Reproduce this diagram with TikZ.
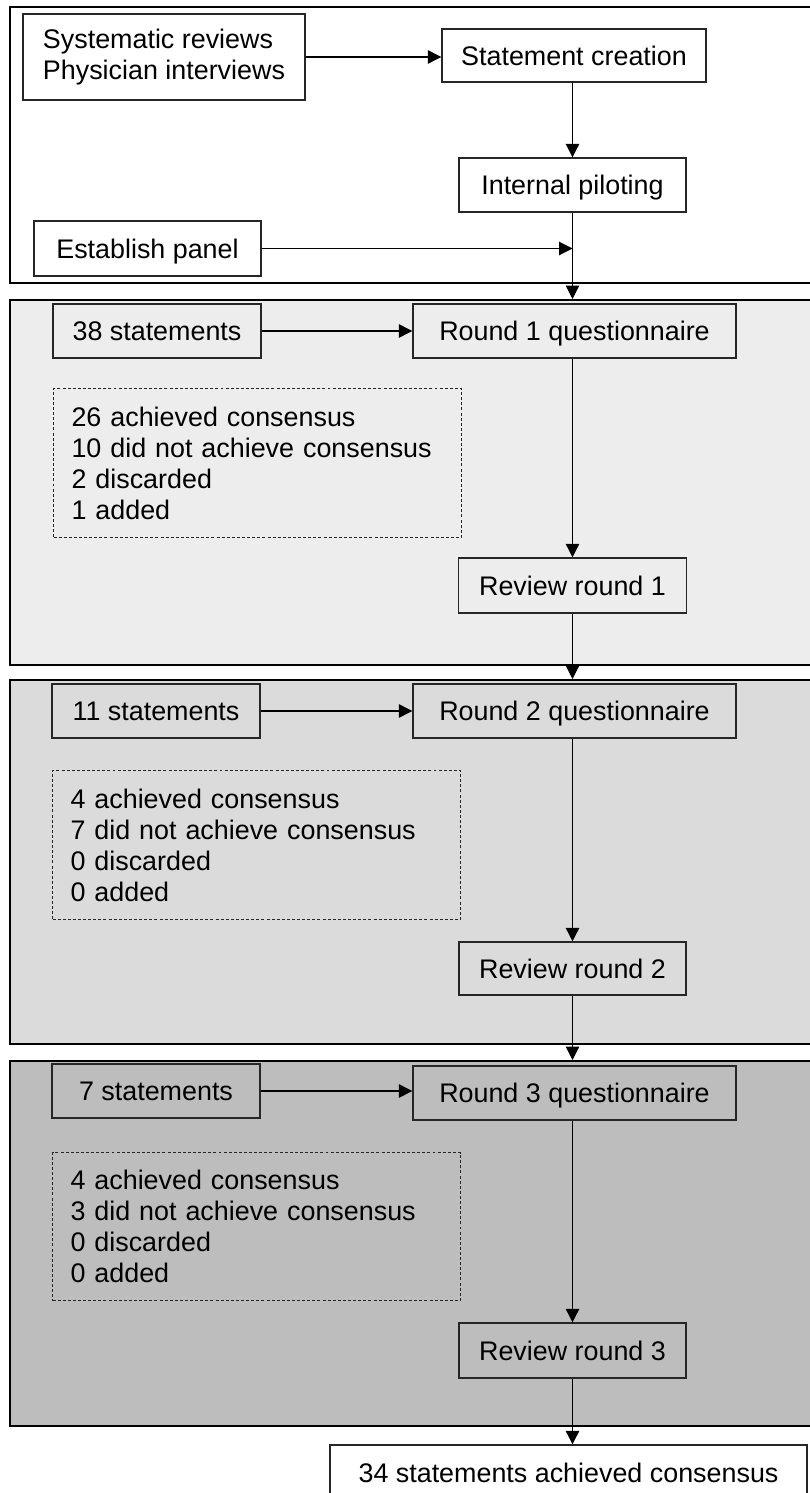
\documentclass[tikz,border=0pt]{standalone}
\usepackage{fontspec}
\setmainfont{Liberation Sans}
\usetikzlibrary{arrows.meta}

\begin{document}
\begin{tikzpicture}[
  x=0.02cm, y=-0.02cm,
  every node/.style={font=\fontsize{15.3}{17.6}\selectfont},
  stage/.style={draw=black, line width=1.1pt, rectangle, anchor=north west,
                minimum width=16.12cm, inner sep=0pt},
  box/.style={draw=black!85, line width=0.8pt, rectangle, inner sep=0pt,
              minimum height=1.08cm, text height=11pt, text depth=0pt},
  tally/.style={draw=black!85, line width=0.6pt, dash pattern=on 1.7pt off 1.2pt,
                rectangle, anchor=north west, minimum width=8.16cm,
                minimum height=2.98cm, text width=7.44cm, inner xsep=0.36cm,
                inner ysep=0pt, align=left},
  flow/.style={line width=0.6pt, -{Triangle[length=0.27cm, width=0.27cm]}},
]
\clip (0,0) rectangle (810,1493);
\fill[white] (0,0) rectangle (810,1493);
% stage frames
\node[stage, fill=white, minimum height=5.52cm] (sec1) at (9,6) {};
\node[stage, fill=black!7, minimum height=7.30cm] (sec2) at (9,299) {};
\node[stage, fill=black!14, minimum height=7.28cm] (sec3) at (9,679) {};
\node[stage, fill=black!26, minimum height=7.30cm] (sec4) at (9,1060) {};
% preparation
\node[box, minimum width=5.64cm, minimum height=1.72cm, text height=, text depth=, align=left] (src) at (164,57)
  {Systematic reviews\\Physician interviews};
\node[box, minimum width=5.28cm, minimum height=1.06cm] (create) at (574,55.5) {Statement creation};
\node[box, minimum width=4.54cm] (pilot) at (572.5,185) {Internal piloting};
\node[box, minimum width=4.54cm, minimum height=1.10cm] (panel) at (147.5,248.5) {Establish panel};
% round 1
\node[box, fill=black!7, minimum width=4.16cm] (s1) at (157,331) {38 statements};
\node[box, fill=black!7, minimum width=6.46cm] (q1) at (574.5,331) {Round 1 questionnaire};
\node[tally] (res1) at (53,388)
  {26 achieved consensus\\10 did not achieve consensus\\2 discarded\\1 added};
\node[box, fill=black!7, minimum width=4.56cm, minimum height=1.10cm] (rev1) at (572.5,585.5) {Review round 1};
% round 2
\node[box, fill=black!14, minimum width=4.16cm] (s2) at (156,711) {11 statements};
\node[box, fill=black!14, minimum width=6.46cm] (q2) at (574.5,711) {Round 2 questionnaire};
\node[tally] (res2) at (52,770)
  {4 achieved consensus\\7 did not achieve consensus\\0 discarded\\0 added};
\node[box, fill=black!14, minimum width=4.54cm, minimum height=1.06cm] (rev2) at (572.5,968.5) {Review round 2};
% round 3
\node[box, fill=black!26, minimum width=4.16cm] (s3) at (156,1091) {7 statements};
\node[box, fill=black!26, minimum width=6.46cm] (q3) at (574.5,1093) {Round 3 questionnaire};
\node[tally, minimum height=2.96cm] (res3) at (52,1152)
  {4 achieved consensus\\3 did not achieve consensus\\0 discarded\\0 added};
\node[box, fill=black!26, minimum width=4.54cm, minimum height=1.10cm] (rev3) at (572.5,1350.5) {Review round 3};
% outcome
\node[box, fill=white, minimum width=9.54cm, minimum height=1.10cm] (final) at (568.5,1472.5)
  {34 statements achieved consensus};
% connectors
\draw[flow] (src.east) -- (src.east -| create.west);
\draw[flow] (create.south -| pilot.north) -- (pilot.north);
\draw[flow] (panel.east) -- (panel.east -| pilot.south);
\draw[flow] (pilot.south) -- (pilot.south |- sec2.north);
\draw[flow] (s1.east) -- (s1.east -| q1.west);
\draw[flow] (q1.south -| rev1.north) -- (rev1.north);
\draw[flow] (rev1.south) -- (rev1.south |- sec3.north);
\draw[flow] (s2.east) -- (s2.east -| q2.west);
\draw[flow] (q2.south -| rev2.north) -- (rev2.north);
\draw[flow] (rev2.south) -- (rev2.south |- sec4.north);
\draw[flow] (s3.east) -- (s3.east -| q3.west);
\draw[flow] (q3.south -| rev3.north) -- (rev3.north);
\draw[flow] (rev3.south) -- (rev3.south |- final.north);
\end{tikzpicture}
\end{document}
